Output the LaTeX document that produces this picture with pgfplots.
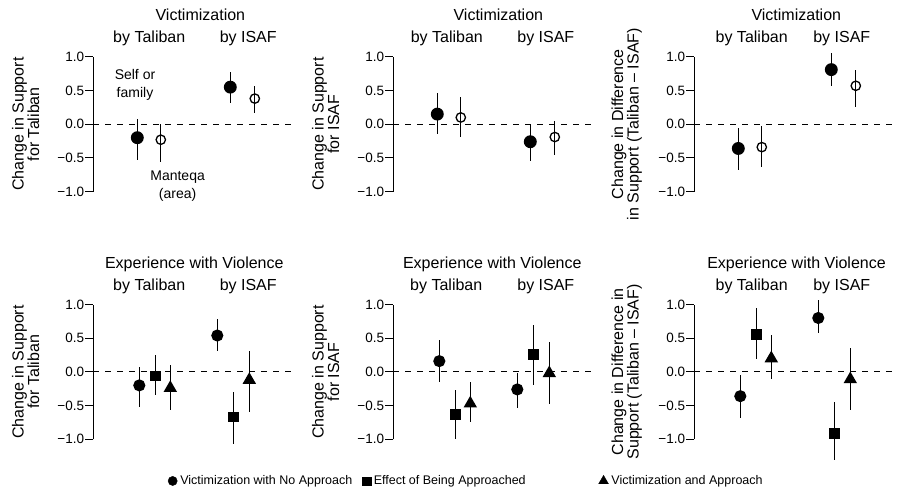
\documentclass[border=0pt]{standalone}
\usepackage{pgfplots}
\pgfplotsset{compat=1.18}
\usepackage{fontspec}
\setmainfont{Liberation Sans}

\newcommand{\ttl}{\fontsize{16}{16}\selectfont}
\newcommand{\note}{\fontsize{14}{18}\selectfont}

\pgfplotsset{
  panel/.style={
    scale only axis, width=202pt, height=134.8pt,
    xmin=0, xmax=202, ymin=-1, ymax=1,
    clip=false, anchor=south west,
    axis y line*=left, axis x line=none,
    ytick={-1,-0.5,0,0.5,1},
    yticklabels={−1.0,−0.5,0.0,0.5,1.0},
    tick align=outside, major tick length=8pt,
    every tick/.style={black, line width=1.1pt},
    axis line style={black, line width=1.1pt},
    yticklabel style={font=\fontsize{13.5}{13.5}\selectfont, inner sep=0pt, xshift=-1pt},
    every axis y label/.style={at={(axis description cs:-0.335,0.5)}, rotate=90,
      anchor=center, align=center, font=\fontsize{16}{15.5}\selectfont},
  },
  ebar/.style={only marks, black, line width=1.3pt,
    error bars/y dir=both, error bars/y explicit, error bars/error mark=none,
    error bars/error bar style={line width=1.3pt, black}},
  zero/.style={black, line width=1.1pt, dash pattern=on 6pt off 6pt, forget plot},
  fullc/.style={ebar, mark=*, mark size=5.8pt},
  openc/.style={ebar, mark=o, mark size=4.7pt},
  dotc/.style={ebar, mark=*, mark size=5.4pt},
  sqr/.style={ebar, mark=square*, mark size=4.7pt},
  tri/.style={ebar, mark=triangle*, mark size=6.5pt},
  /pgfplots/table/ci/.style={x=x, y=y,
    y error plus expr=\thisrow{hi}-\thisrow{y},
    y error minus expr=\thisrow{y}-\thisrow{lo}},
}

\begin{document}
\begin{tikzpicture}
\path[use as bounding box] (0,0) rectangle (897pt,-491pt);

% ---------- top row: Victimization ----------
\begin{axis}[panel, at={(93.3pt,-191.6pt)}, ylabel={Change in Support\\for Taliban}]
  \addplot[zero] coordinates {(0,0) (202,0)};
  \addplot[fullc] table[ci] {
x y lo hi
44 -0.20 -0.53 0.07
137 0.55 0.32 0.78
};
  \addplot[openc] table[ci] {
x y lo hi
67.5 -0.23 -0.56 0.00
161.5 0.38 0.17 0.57
};
  \node[font=\ttl] at (axis description cs:0.53,1.31) {Victimization};
  \node[font=\ttl] at (axis description cs:0.277,1.135) {by Taliban};
  \node[font=\ttl] at (axis description cs:0.767,1.135) {by ISAF};
  \node[font=\note, align=center] at (axis cs:41.7,0.58) {Self or\\family};
  \node[font=\note, align=center] at (axis cs:84.3,-0.915) {Manteqa\\(area)};
\end{axis}

\begin{axis}[panel, at={(393.3pt,-191.6pt)}, ylabel={Change in Support\\for ISAF}]
  \addplot[zero] coordinates {(0,0) (202,0)};
  \addplot[fullc] table[ci] {
x y lo hi
44 0.15 -0.15 0.47
137 -0.26 -0.54 -0.01
};
  \addplot[openc] table[ci] {
x y lo hi
67.5 0.10 -0.19 0.41
161.5 -0.19 -0.45 0.05
};
  \node[font=\ttl] at (axis description cs:0.52,1.31) {Victimization};
  \node[font=\ttl] at (axis description cs:0.265,1.135) {by Taliban};
  \node[font=\ttl] at (axis description cs:0.755,1.135) {by ISAF};
\end{axis}

\begin{axis}[panel, at={(694.3pt,-191.6pt)}, ylabel={Change in Difference\\in Support (Taliban – ISAF)}]
  \addplot[zero] coordinates {(0,0) (202,0)};
  \addplot[fullc] table[ci] {
x y lo hi
44 -0.36 -0.68 -0.05
137 0.81 0.57 1.06
};
  \addplot[openc] table[ci] {
x y lo hi
67.5 -0.34 -0.64 -0.03
161.5 0.57 0.26 0.81
};
  \node[font=\ttl] at (axis description cs:0.505,1.31) {Victimization};
  \node[font=\ttl] at (axis description cs:0.284,1.135) {by Taliban};
  \node[font=\ttl] at (axis description cs:0.73,1.135) {by ISAF};
\end{axis}

% ---------- bottom row: Experience with Violence ----------
\begin{axis}[panel, at={(93.3pt,-439.3pt)}, ylabel={Change in Support\\for Taliban}]
  \addplot[zero] coordinates {(0,0) (202,0)};
  \addplot[dotc] table[ci] {
x y lo hi
46 -0.20 -0.52 0.07
124 0.54 0.31 0.78
};
  \addplot[sqr] table[ci] {
x y lo hi
62 -0.06 -0.35 0.25
140 -0.67 -1.07 -0.30
};
  \addplot[tri] table[ci] {
x y lo hi
77 -0.24 -0.57 0.10
156 -0.12 -0.59 0.31
};
  \node[font=\ttl] at (axis description cs:0.50,1.298) {Experience with Violence};
  \node[font=\ttl] at (axis description cs:0.277,1.135) {by Taliban};
  \node[font=\ttl] at (axis description cs:0.767,1.135) {by ISAF};
\end{axis}

\begin{axis}[panel, at={(393.3pt,-439.3pt)}, ylabel={Change in Support\\for ISAF}]
  \addplot[zero] coordinates {(0,0) (202,0)};
  \addplot[dotc] table[ci] {
x y lo hi
46 0.16 -0.15 0.47
124 -0.26 -0.53 -0.01
};
  \addplot[sqr] table[ci] {
x y lo hi
62 -0.63 -0.99 -0.27
140 0.26 -0.20 0.69
};
  \addplot[tri] table[ci] {
x y lo hi
77 -0.47 -0.74 -0.15
156 -0.02 -0.47 0.45
};
  \node[font=\ttl] at (axis description cs:0.49,1.298) {Experience with Violence};
  \node[font=\ttl] at (axis description cs:0.262,1.135) {by Taliban};
  \node[font=\ttl] at (axis description cs:0.755,1.135) {by ISAF};
\end{axis}

\begin{axis}[panel, at={(694.3pt,-439.3pt)}, ylabel={Change in Difference in\\Support (Taliban – ISAF)},
  legend image code/.code={\draw[#1] plot coordinates {(0pt,0pt)};},
  legend style={at={(axis description cs:-2.606,-0.309)}, anchor=west, draw=none, fill=none,
    inner sep=0pt, legend columns=3, font=\fontsize{12.5}{13}\selectfont,
    nodes={inner sep=1pt},
    /tikz/column 1/.style={column sep=2pt},
    /tikz/column 2/.style={column sep=9pt},
    /tikz/column 3/.style={column sep=2pt},
    /tikz/column 4/.style={column sep=72pt},
    /tikz/column 5/.style={column sep=2pt}},
  legend cell align=left]
  \addplot[zero] coordinates {(0,0) (202,0)};
  \addplot[dotc, forget plot] table[ci] {
x y lo hi
46 -0.36 -0.68 -0.05
124 0.80 0.58 1.06
};
  \addplot[sqr, forget plot] table[ci] {
x y lo hi
62 0.55 0.19 0.95
140 -0.91 -1.30 -0.45
};
  \addplot[tri, forget plot] table[ci] {
x y lo hi
77 0.20 -0.11 0.55
156 -0.11 -0.57 0.36
};
  \addlegendimage{black, mark=*, mark size=4.6pt}
  \addlegendentry{Victimization with No Approach}
  \addlegendimage{black, mark=square*, mark size=4.2pt}
  \addlegendentry{Effect of Being Approached}
  \addlegendimage{black, mark=triangle*, mark size=5.6pt}
  \addlegendentry{Victimization and Approach}
  \node[font=\ttl] at (axis description cs:0.506,1.298) {Experience with Violence};
  \node[font=\ttl] at (axis description cs:0.284,1.135) {by Taliban};
  \node[font=\ttl] at (axis description cs:0.73,1.135) {by ISAF};
\end{axis}
\end{tikzpicture}
\end{document}
